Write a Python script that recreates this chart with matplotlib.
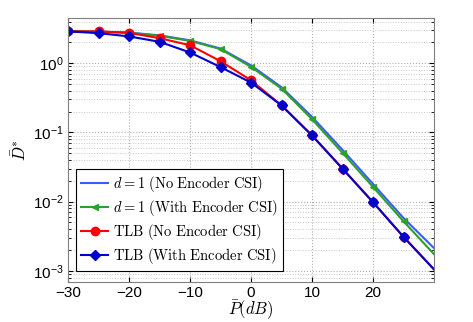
import matplotlib
matplotlib.use("Agg")
import matplotlib.pyplot as plt
import numpy as np

# SNR points in dB
snr_db = [-30, -25, -20, -15, -10, -5, 0, 5, 10, 15, 20, 25, 30]

d1_no_csi = [2.9, 2.86, 2.77, 2.53, 2.14, 1.63, 0.93, 0.45, 0.168, 0.056, 0.018, 0.0058, 0.00213]
d1_with_csi = [2.9, 2.85, 2.75, 2.49, 2.1, 1.6, 0.885, 0.43, 0.155, 0.0507, 0.0163, 0.0052, 0.00174]
tlb_no_csi = [2.88, 2.88, 2.75, 2.3, 1.82, 1.07, 0.567, 0.246, 0.0905, 0.030, 0.0098, 0.0031, 0.00105]
tlb_with_csi = [2.88, 2.72, 2.44, 2.04, 1.43, 0.88, 0.525, 0.246, 0.0905, 0.030, 0.0098, 0.0031, 0.00105]

labels = [r"$d=1\ \mathrm{(No\ Encoder\ CSI)}$",
          r"$d=1\ \mathrm{(With\ Encoder\ CSI)}$",
          r"$\mathrm{TLB\ (No\ Encoder\ CSI)}$",
          r"$\mathrm{TLB\ (With\ Encoder\ CSI)}$"]

plt.rcParams['mathtext.fontset'] = 'cm'
plt.rcParams['font.family'] = ['Liberation Sans', 'DejaVu Sans']

fig = plt.figure(figsize=(4.73, 3.22), dpi=100)
ax = fig.add_axes([68 / 473, 40 / 322, 366 / 473, 264 / 322])

# markers on the 5 dB points, last point is just the line end
mk = list(range(12))
ax.semilogy(snr_db, d1_no_csi, color='#3a5cff', lw=1.5, label=labels[0])
ax.semilogy(snr_db, d1_with_csi, color='#2ca02c', lw=1.5, marker='<', ms=5,
            markevery=mk, label=labels[1])
ax.semilogy(snr_db, tlb_no_csi, color='red', lw=1.5, marker='o', ms=6,
            markevery=mk, label=labels[2])
ax.semilogy(snr_db, tlb_with_csi, color='#0000cc', lw=1.5, marker='D', ms=4.8,
            markevery=mk, label=labels[3])

ax.set_xlim(-30, 30)
ax.set_ylim(6.9e-4, 4.5)
ax.set_xticks([-30, -20, -10, 0, 10, 20])
ax.set_yticks([1e-3, 1e-2, 1e-1, 1e0])

ax.grid(True, which='major', color='#b0b0b0', linestyle=':', lw=0.8)
ax.grid(True, which='minor', color='#c8c8c8', linestyle=':', lw=0.7)
ax.tick_params(which='both', direction='in', top=True, right=True, labelsize=11)
ax.tick_params(which='major', pad=3)
ax.tick_params(which='minor', length=2)
for s in ax.spines.values():
    s.set_color('#808080')

ax.set_xlabel(r"$\bar{P}(dB)$", fontsize=12, labelpad=-1)
ax.set_ylabel(r"$\bar{D}^{*}$", fontsize=12, labelpad=3)

leg = ax.legend(loc='lower left', bbox_to_anchor=(0.013, 0.03), fontsize=10.5,
                fancybox=False, framealpha=1, edgecolor='black',
                handlelength=1.9, handletextpad=0.3, labelspacing=0.28,
                borderpad=0.35, borderaxespad=0.2)
leg.get_frame().set_linewidth(0.8)

fig.savefig("out.png", dpi=100)
